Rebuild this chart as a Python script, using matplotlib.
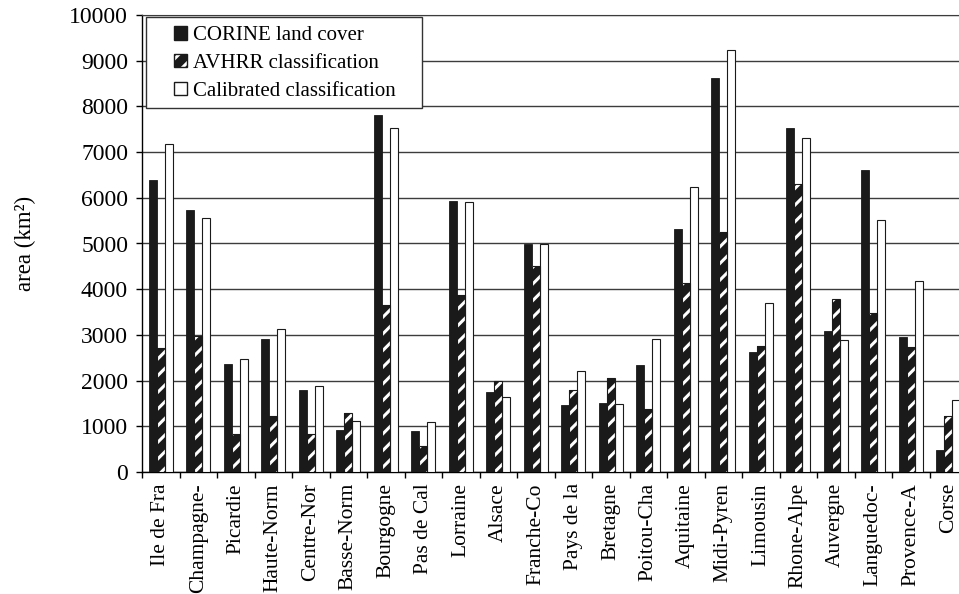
import matplotlib
matplotlib.use('Agg')
import matplotlib.pyplot as plt
import numpy as np
from matplotlib.patches import Patch, Rectangle

plt.rcParams['font.family'] = ['Liberation Serif', 'DejaVu Serif']
plt.rcParams['hatch.color'] = 'white'
plt.rcParams['hatch.linewidth'] = 2.2

regions = ['Ile de Fra', 'Champagne-', 'Picardie', 'Haute-Norm', 'Centre-Nor',
           'Basse-Norm', 'Bourgogne', 'Pas de Cal', 'Lorraine', 'Alsace',
           'Franche-Co', 'Pays de la', 'Bretagne', 'Poitou-Cha', 'Aquitaine',
           'Midi-Pyren', 'Limousin', 'Rhone-Alpe', 'Auvergne', 'Languedoc-',
           'Provence-A', 'Corse']

# forest area per region (km2)
corine = [6390, 5740, 2360, 2910, 1795, 925, 7810, 895, 5925, 1760,
          4990, 1465, 1510, 2340, 5325, 8630, 2635, 7535, 3085, 6600,
          2960, 480]
avhrr = [2705, 2975, 825, 1220, 840, 1300, 3655, 575, 3875, 1995,
         4515, 1800, 2065, 1385, 4135, 5250, 2765, 6295, 3780, 3485,
         2740, 1225]
calibrated = [7180, 5550, 2480, 3120, 1875, 1125, 7520, 1100, 5900, 1650,
              4980, 2215, 1495, 2905, 6245, 9230, 3705, 7300, 2890, 5505,
              4180, 1575]

x = np.arange(len(regions))
w = 0.215

fig = plt.figure(figsize=(9.59, 5.94), dpi=100)
ax = fig.add_axes([142/959, 122/594, 22*37.5/959, 457/594])

ax.bar(x - w, corine, w, color='#1a1a1a', edgecolor='#1a1a1a', linewidth=0.6, zorder=3)
ax.bar(x, avhrr, w, color='#1a1a1a', edgecolor=None, linewidth=0, hatch='//', zorder=3)
ax.bar(x, avhrr, w, fill=False, edgecolor='#1a1a1a', linewidth=0.8, zorder=4)
ax.bar(x + w, calibrated, w, color='white', edgecolor='#1a1a1a', linewidth=0.8, zorder=3)

ax.set_xlim(-0.5, len(regions) - 0.5)
ax.set_ylim(0, 10000)
ax.set_yticks(np.arange(0, 10001, 1000))
ax.set_xticks(x)
ax.set_xticklabels(regions, rotation=90, fontsize=15.5)
ax.set_xticks(np.arange(len(regions) + 1) - 0.5, minor=True)
ax.tick_params(axis='x', which='major', length=0, pad=8)
ax.tick_params(axis='x', which='minor', length=4.5, width=1, direction='out')
ax.tick_params(axis='y', length=4.5, width=1, pad=5.5, labelsize=17)
ax.yaxis.grid(True, color='#3c3c3c', linewidth=1.0, zorder=0)
ax.set_axisbelow(True)

for s in ['left', 'bottom']:
    ax.spines[s].set_color('black')
    ax.spines[s].set_linewidth(1.0)
ax.spines['top'].set_color('#3c3c3c')
ax.spines['right'].set_visible(False)

fig.text(25/959, 1 - 243/594, 'area (km²)', rotation=90, ha='center', va='center',
         fontsize=16.5)

# legend frame drawn separately so the padding can be wider than tall
frame = Rectangle((146/959, 1 - 108/594), (422 - 146)/959, (108 - 17)/594,
                  transform=fig.transFigure, facecolor='white',
                  edgecolor='#333333', linewidth=1.0, zorder=5)
fig.patches.append(frame)

handles = [Patch(facecolor='#1a1a1a', edgecolor='#1a1a1a'),
           (Patch(facecolor='#1a1a1a', edgecolor=None, hatch='//'),
            Patch(facecolor='none', edgecolor='#1a1a1a')),
           Patch(facecolor='white', edgecolor='#1a1a1a')]
leg = fig.legend(handles, ['CORINE land cover', 'AVHRR classification',
                           'Calibrated classification'],
                 loc='upper left', bbox_to_anchor=(174/959, 1 - 26/594),
                 frameon=False, fontsize=15, handlelength=0.62,
                 handleheight=0.62, handletextpad=0.3, labelspacing=0.42,
                 borderpad=0, borderaxespad=0)
leg.set_zorder(6)

fig.savefig('out.png', dpi=100)
